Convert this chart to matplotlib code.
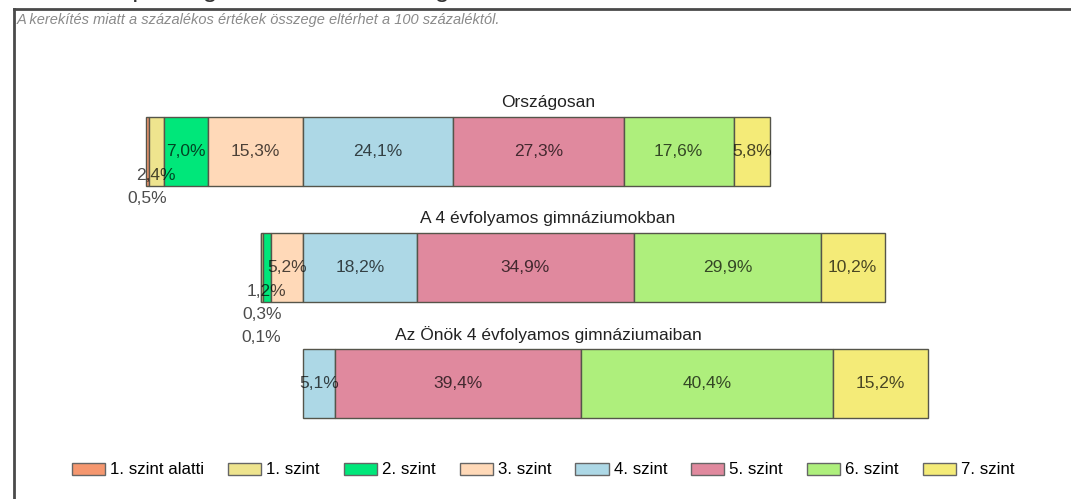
import matplotlib.pyplot as plt
from matplotlib.patches import Patch
from matplotlib.lines import Line2D

plt.rcParams['font.family'] = ['Liberation Sans', 'DejaVu Sans']

# Data
groups = ['Országosan', 'A 4 évfolyamos gimnáziumokban',
          'Az Önök 4 évfolyamos gimnáziumaiban']
levels = ['1. szint alatti', '1. szint', '2. szint', '3. szint',
          '4. szint', '5. szint', '6. szint', '7. szint']
orszagos = [0.5, 2.4, 7.0, 15.3, 24.1, 27.3, 17.6, 5.8]
gimn4 = [0.1, 0.3, 1.2, 5.2, 18.2, 34.9, 29.9, 10.2]
onok4 = [0.0, 0.0, 0.0, 0.0, 5.1, 39.4, 40.4, 15.2]
values = [orszagos, gimn4, onok4]

colors = ['#F5976F', '#EEE48E', '#00E77A', '#FFD9B8',
          '#ADD8E6', '#E0899E', '#AEEF7C', '#F4EB78']

W, H = 1071, 499
fig = plt.figure(figsize=(W / 100, H / 100), dpi=100)
ax = fig.add_axes([0, 0, 1, 1])
ax.axis('off')

# x: 0 at the 3./4. szint boundary, 6.24 px per percent
zero_px, ppp = 303, 6.24
ax.set_xlim(-zero_px / ppp, (W - zero_px) / ppp)
row_px, first_px = 116, 151.5
ax.set_ylim((H - first_px) / row_px, -first_px / row_px)

bar_h = 69 / row_px
step = 23.5 / row_px
lab_fs = 12.5

for i, vals in enumerate(values):
    left = -sum(vals[:4])
    lefts = []
    for j, v in enumerate(vals):
        lefts.append(left)
        if v > 0:
            ax.barh(i, v, left=left, height=bar_h, color=colors[j],
                    edgecolor='#55554a', linewidth=1)
        left += v

    # labels: small segments on the left get pushed downwards
    off = 0
    for j in range(3, -1, -1):
        v = vals[j]
        if v <= 0:
            continue
        off = off + 1 if v < 5 else 0
        ax.text(lefts[j] + v / 2, i + off * step, f'{v:.1f}%'.replace('.', ','),
                ha='center', va='center', fontsize=lab_fs,
                color='black', alpha=0.7)
    for j in range(4, 8):
        v = vals[j]
        if v <= 0:
            continue
        ax.text(lefts[j] + v / 2, i, f'{v:.1f}%'.replace('.', ','),
                ha='center', va='center', fontsize=lab_fs,
                color='black', alpha=0.7)

    ax.text(548 / W, i - bar_h / 2 - 14 / row_px, groups[i],
            transform=ax.get_yaxis_transform(), ha='center', va='center',
            fontsize=lab_fs, color='#222222')

# frame and header
fig.add_artist(Line2D([14 / W, 1], [1 - 8.5 / H, 1 - 8.5 / H],
                      color='#4a4a4a', lw=2))
fig.add_artist(Line2D([14 / W, 14 / W], [0, 1 - 8.5 / H],
                      color='#4a4a4a', lw=2))
fig.text(0, 1 + 3 / H, 'Tanulóik képességszintek szerinti megoszlása',
         ha='left', va='baseline', fontsize=19, color='#333333')
fig.text(17 / W, 1 - 20 / H,
         'A kerekítés miatt a százalékos értékek összege eltérhet a 100 százaléktól.',
         ha='left', va='center', fontsize=10.5, style='italic', color='#8a8a8a')

handles = [Patch(facecolor=c, edgecolor='#666666', label=l)
           for c, l in zip(colors, levels)]
fig.legend(handles=handles, loc='center left', ncol=8,
           bbox_to_anchor=(72 / W, 1 - 470 / H), frameon=False,
           borderpad=0, borderaxespad=0, fontsize=12.2,
           handlelength=1.95, handleheight=0.71, handletextpad=0.3,
           columnspacing=1.42)

fig.savefig('out.png', dpi=100)
